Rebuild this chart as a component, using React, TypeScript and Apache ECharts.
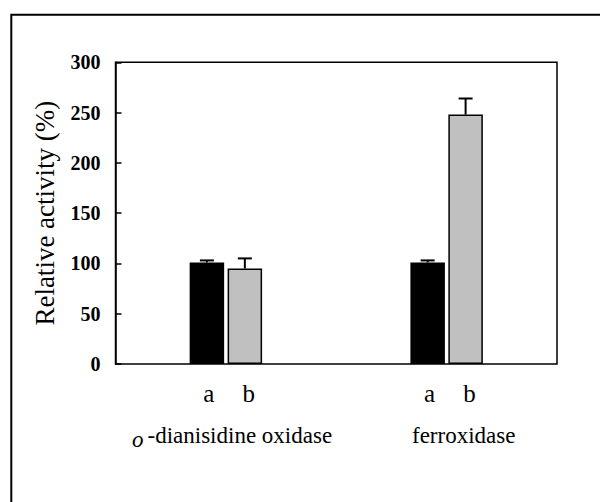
import React, { useEffect, useRef } from "react";
import * as echarts from "echarts";

const categories = ["o-dianisidine oxidase", "ferroxidase"];
const seriesNames = ["a", "b"];
const valuesA = [101, 101];
const errorsA = [2, 2];
const valuesB = [95, 248];
const errorsB = [10, 16];
const yMin = 0;
const yMax = 300;
const yInterval = 50;
const yTitle = "Relative activity (%)";

const FONT = "Liberation Serif";
const BAR_W = 34.5;
const BAR_GAP = 0.1;
const OFFSET = (BAR_W * (1 + BAR_GAP)) / 2;

function errorSeries(values: number[], errors: number[], offset: number) {
  return {
    type: "custom",
    xAxisIndex: 0,
    yAxisIndex: 0,
    z: 5,
    silent: true,
    data: values.map((v, i) => [i, v, errors[i]]),
    encode: { x: 0, y: 1 },
    renderItem: (params: any, api: any) => {
      const i = api.value(0);
      const v = api.value(1);
      const e = api.value(2);
      const base = api.coord([i, v]);
      const top = api.coord([i, v + e]);
      const x = base[0] + offset;
      const half = 7;
      const style = { stroke: "#000", lineWidth: 2, fill: "none" };
      return {
        type: "group",
        children: [
          { type: "line", shape: { x1: x, y1: base[1], x2: x, y2: top[1] }, style },
          { type: "line", shape: { x1: x - half, y1: top[1], x2: x + half, y2: top[1] }, style },
        ],
      };
    },
  };
}

export default function App() {
  const ref = useRef<HTMLDivElement>(null);
  useEffect(() => {
    if (!ref.current) return;
    const chart = echarts.init(ref.current, undefined, { renderer: "svg" });
    const barLabel = (dx: number) => ({
      show: true,
      position: "bottom",
      distance: 17,
      offset: [dx, 0],
      formatter: (p: any) => p.seriesName,
      color: "#000",
      fontFamily: FONT,
      fontSize: 25,
      lineHeight: 25,
    });
    chart.setOption({
      animation: false,
      backgroundColor: "#fff",
      textStyle: { fontFamily: FONT },
      grid: {
        left: 115.5,
        right: 43,
        top: 62.3,
        bottom: 138,
        show: true,
        borderColor: "#000",
        borderWidth: 1.5,
        backgroundColor: "transparent",
      },
      xAxis: {
        type: "category",
        data: categories,
        axisLine: { show: false },
        axisTick: { show: false },
        axisLabel: { show: false },
        splitLine: { show: false },
      },
      yAxis: {
        type: "value",
        min: yMin,
        max: yMax,
        interval: yInterval,
        name: yTitle,
        nameLocation: "middle",
        nameGap: 57,
        nameTextStyle: { fontFamily: FONT, fontSize: 27, color: "#000" },
        axisLine: { show: true, lineStyle: { color: "#000", width: 1.5 } },
        axisTick: { show: true, inside: true, length: 6, lineStyle: { color: "#000", width: 1.5 } },
        axisLabel: {
          margin: 15,
          fontFamily: FONT,
          fontSize: 20,
          fontWeight: "bold",
          color: "#000",
        },
        splitLine: { show: false },
      },
      series: [
        {
          name: seriesNames[0],
          type: "bar",
          data: valuesA,
          barWidth: BAR_W,
          barGap: BAR_GAP * 100 + "%",
          itemStyle: { color: "#000", borderColor: "#000", borderWidth: 0 },
          label: barLabel(2),
          z: 2,
        },
        {
          name: seriesNames[1],
          type: "bar",
          data: valuesB,
          barWidth: BAR_W,
          barGap: BAR_GAP * 100 + "%",
          itemStyle: { color: "#c0c0c0", borderColor: "#000", borderWidth: 1.5 },
          label: barLabel(4),
          z: 2,
        },
        errorSeries(valuesA, errorsA, -OFFSET),
        errorSeries(valuesB, errorsB, OFFSET),
      ],
      graphic: [
        {
          type: "rect",
          silent: true,
          shape: { x: 11.3, y: 14.7, width: 700, height: 600 },
          style: { fill: "none", stroke: "#000", lineWidth: 2 },
        },
        {
          type: "text",
          x: 132,
          y: 439.3,
          style: {
            text: categories[0].slice(0, 1),
            fontFamily: FONT,
            fontSize: 23,
            fontStyle: "italic",
            fill: "#000",
            align: "left",
            verticalAlign: "middle",
          },
        },
        {
          type: "text",
          x: 147.5,
          y: 435.2,
          style: {
            text: categories[0].slice(1),
            fontFamily: FONT,
            fontSize: 23,
            fill: "#000",
            align: "left",
            verticalAlign: "middle",
          },
        },
        {
          type: "text",
          x: 412,
          y: 435.2,
          style: {
            text: categories[1],
            fontFamily: FONT,
            fontSize: 23,
            fill: "#000",
            align: "left",
            verticalAlign: "middle",
          },
        },
      ],
    });
    return () => chart.dispose();
  }, []);
  return (
    <div
      ref={ref}
      style={{ position: "fixed", left: 0, top: 0, width: 600, height: 502, background: "#fff" }}
    />
  );
}
